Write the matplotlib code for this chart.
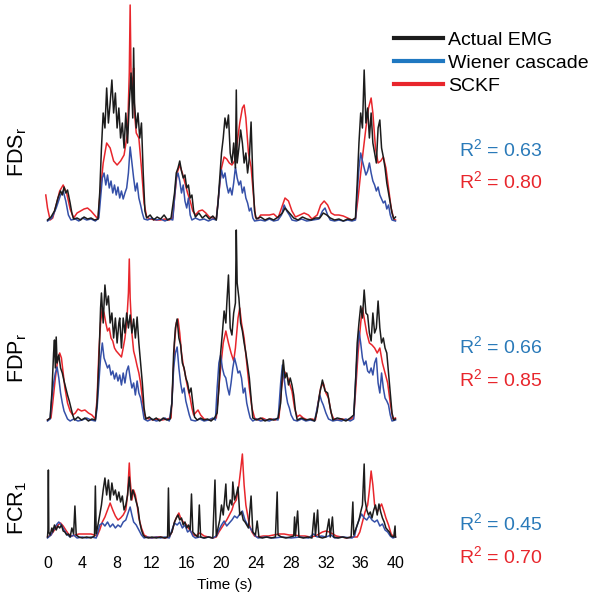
import numpy as np
import matplotlib
matplotlib.use('Agg')
import matplotlib.pyplot as plt
from matplotlib.lines import Line2D

plt.rcParams['font.family'] = ['Liberation Sans', 'DejaVu Sans']
plt.rcParams['mathtext.fontset'] = 'custom'
plt.rcParams['mathtext.rm'] = 'Liberation Sans'
plt.rcParams['mathtext.it'] = 'Liberation Sans:italic'

# ---------- data: (time s, amplitude a.u.) ----------
fds_actual = [
    (0.0, 3), (0.4, 6), (0.8, 12), (1.2, 25), (1.5, 32), (1.7, 28), (1.9, 36), (2.1, 30), (2.3, 33), (2.6, 20),
    (2.8, 10), (3.0, 4), (3.4, 5), (3.8, 3), (4.2, 6), (4.6, 4), (5.0, 5), (5.4, 3), (5.8, 4),
    (6.0, 30), (6.2, 75), (6.4, 110), (6.6, 95), (6.8, 135), (7.0, 100), (7.2, 120), (7.4, 143), (7.6, 110),
    (7.8, 130), (8.0, 95), (8.2, 115), (8.4, 85), (8.6, 100), (8.8, 75), (9.0, 110), (9.2, 80), (9.4, 120),
    (9.6, 150), (9.8, 105), (9.9, 175), (10.0, 120), (10.2, 95), (10.4, 110), (10.6, 85), (10.8, 100), (11.0, 50),
    (11.2, 12), (11.4, 5), (11.8, 8), (12.2, 3), (12.6, 6), (13.0, 4), (13.4, 8), (13.8, 3), (14.2, 5),
    (14.6, 30), (14.8, 50), (15.0, 55), (15.2, 62), (15.4, 52), (15.6, 45), (15.8, 48), (16.0, 35), (16.2, 38),
    (16.4, 25), (16.6, 28), (16.8, 12), (17.0, 6), (17.4, 10), (17.8, 5), (18.2, 8), (18.6, 4), (19.0, 7), (19.4, 3),
    (19.6, 20), (19.8, 45), (20.0, 70), (20.2, 85), (20.4, 105), (20.6, 95), (20.8, 108), (21.0, 70), (21.2, 60),
    (21.4, 80), (21.6, 55), (21.7, 133), (21.8, 60), (22.0, 75), (22.2, 93), (22.4, 80), (22.6, 60), (22.8, 70),
    (23.0, 50), (23.2, 65), (23.4, 101), (23.6, 45), (23.8, 12), (24.0, 4), (24.5, 6), (25.0, 3), (25.5, 5),
    (26.0, 3), (26.5, 6), (27.0, 10), (27.3, 15), (27.6, 12), (28.0, 8), (28.3, 5), (28.8, 3), (29.3, 6), (29.8, 4),
    (30.3, 3), (30.8, 5), (31.3, 5), (31.7, 10), (32.1, 8), (32.5, 5), (33.0, 3), (33.5, 4), (34.0, 2), (34.5, 4),
    (35.0, 3), (35.4, 5), (35.6, 40), (35.8, 80), (36.0, 110), (36.2, 95), (36.4, 153), (36.6, 100), (36.8, 115),
    (37.0, 85), (37.2, 110), (37.4, 80), (37.6, 70), (37.8, 60), (38.0, 95), (38.2, 103), (38.4, 75), (38.6, 66),
    (38.8, 55), (39.0, 40), (39.2, 30), (39.4, 20), (39.6, 10), (39.8, 4), (40.0, 6),
]
fds_wiener = [
    (0.0, 2), (0.5, 5), (1.0, 15), (1.5, 28), (1.8, 32), (2.1, 22), (2.4, 8), (2.7, 3), (3.2, 4), (3.6, 2),
    (4.0, 5), (4.5, 3), (5.0, 4), (5.5, 2), (5.9, 5),
    (6.1, 25), (6.3, 45), (6.5, 50), (6.7, 38), (6.9, 48), (7.1, 35), (7.3, 42), (7.5, 30), (7.7, 38), (7.9, 28),
    (8.1, 36), (8.3, 25), (8.5, 32), (8.7, 24), (8.9, 30), (9.1, 35), (9.3, 50), (9.5, 76), (9.7, 60), (9.9, 45),
    (10.1, 32), (10.3, 40), (10.5, 25), (10.7, 18), (10.9, 10), (11.1, 4), (11.5, 3), (12.0, 5), (12.5, 3),
    (13.0, 4), (13.5, 2), (14.0, 4), (14.4, 3),
    (14.6, 25), (14.8, 45), (15.0, 50), (15.2, 42), (15.4, 30), (15.6, 38), (15.8, 22), (16.0, 15), (16.2, 25),
    (16.4, 8), (16.6, 3), (17.0, 5), (17.5, 3), (18.0, 4), (18.5, 2), (19.0, 4), (19.4, 3),
    (19.6, 20), (19.8, 40), (20.0, 53), (20.2, 45), (20.4, 50), (20.6, 38), (20.8, 30), (21.0, 35), (21.2, 28),
    (21.4, 40), (21.6, 56), (21.8, 45), (22.0, 38), (22.2, 42), (22.4, 30), (22.6, 36), (22.8, 25), (23.0, 20),
    (23.2, 12), (23.4, 15), (23.6, 5), (23.8, 2), (24.5, 3), (25.0, 2), (25.5, 4), (26.0, 2), (26.5, 3),
    (26.9, 8), (27.2, 18), (27.5, 12), (27.8, 8), (28.1, 3), (28.6, 2), (29.2, 4), (29.8, 2), (30.5, 3),
    (31.2, 4), (31.6, 12), (31.9, 15), (32.2, 8), (32.5, 3), (33.0, 2), (33.5, 3), (34.0, 2), (34.5, 3),
    (35.0, 2), (35.4, 3),
    (35.6, 30), (35.8, 55), (36.0, 70), (36.2, 62), (36.4, 55), (36.6, 48), (36.8, 52), (37.0, 60), (37.2, 50),
    (37.4, 42), (37.6, 38), (37.8, 32), (38.0, 36), (38.2, 28), (38.4, 24), (38.6, 20), (38.8, 22), (39.0, 14),
    (39.2, 18), (39.4, 8), (39.6, 3), (40.0, 2),
]
fds_sckf = [
    (-0.2, 28), (0.0, 15), (0.3, 3), (0.6, 5), (1.0, 18), (1.4, 32), (1.8, 38), (2.2, 30), (2.6, 14), (3.0, 5),
    (3.4, 10), (3.8, 12), (4.2, 14), (4.6, 15), (5.0, 12), (5.4, 8), (5.8, 4),
    (6.0, 25), (6.4, 60), (6.8, 80), (7.2, 75), (7.6, 62), (8.0, 58), (8.4, 62), (8.8, 68), (9.2, 90),
    (9.4, 150), (9.5, 218), (9.6, 150), (9.8, 135), (9.9, 155), (10.0, 110), (10.2, 90), (10.5, 85), (10.8, 55),
    (11.1, 20), (11.4, 6), (11.8, 4), (12.5, 3), (13.0, 3), (13.5, 4), (14.0, 3), (14.4, 5),
    (14.6, 25), (14.9, 50), (15.2, 58), (15.5, 50), (15.8, 40), (16.1, 30), (16.4, 22), (16.7, 12), (17.0, 8),
    (17.4, 12), (17.8, 13), (18.2, 10), (18.6, 6), (19.0, 5), (19.4, 4),
    (19.7, 30), (20.0, 55), (20.3, 66), (20.6, 64), (20.9, 60), (21.2, 58), (21.5, 62), (21.8, 80), (22.1, 100),
    (22.4, 115), (22.6, 118), (22.8, 105), (23.1, 70), (23.4, 56), (23.7, 25), (23.9, 6), (24.2, 4), (24.5, 8),
    (25.0, 8), (25.5, 8), (26.0, 9), (26.5, 5), (26.9, 15), (27.3, 25), (27.7, 22), (28.1, 12), (28.5, 6),
    (29.0, 8), (29.5, 10), (30.0, 8), (30.4, 4), (31.0, 8), (31.4, 18), (31.8, 22), (32.2, 18), (32.6, 10),
    (33.0, 8), (33.5, 8), (34.0, 7), (34.5, 5), (35.0, 3), (35.4, 4),
    (35.7, 25), (36.0, 50), (36.3, 73), (36.6, 95), (36.9, 115), (37.2, 125), (37.4, 110), (37.7, 75), (38.0, 60),
    (38.3, 62), (38.6, 66), (38.9, 55), (39.2, 35), (39.5, 15), (39.8, 4), (40.0, 3),
]

fdp_actual = [
    (0.0, 3), (0.3, 5), (0.5, 30), (0.7, 70), (0.8, 83), (0.9, 55), (1.0, 86), (1.1, 60), (1.3, 68), (1.5, 55),
    (1.7, 50), (1.9, 42), (2.1, 35), (2.3, 28), (2.5, 22), (2.7, 15), (2.9, 8), (3.1, 3), (3.5, 6), (3.9, 3),
    (4.3, 5), (4.7, 2), (5.1, 4), (5.5, 3),
    (5.7, 20), (5.9, 60), (6.1, 115), (6.2, 130), (6.4, 100), (6.6, 138), (6.8, 118), (7.0, 127), (7.2, 100),
    (7.4, 110), (7.6, 85), (7.8, 105), (8.0, 80), (8.2, 100), (8.3, 105), (8.5, 75), (8.7, 105), (8.9, 90),
    (9.1, 110), (9.3, 95), (9.5, 108), (9.7, 90), (9.9, 104), (10.1, 85), (10.3, 106), (10.5, 80), (10.7, 60),
    (10.9, 40), (11.1, 15), (11.3, 4), (11.7, 6), (12.1, 3), (12.5, 5), (12.9, 2), (13.3, 5), (13.7, 3),
    (14.1, 4), (14.3, 20),
    (14.5, 70), (14.7, 95), (14.9, 104), (15.1, 85), (15.3, 78), (15.5, 60), (15.7, 55), (15.9, 45), (16.1, 40),
    (16.3, 30), (16.5, 35), (16.7, 20), (16.9, 6), (17.2, 3), (17.6, 5), (18.0, 3), (18.4, 4), (18.8, 2),
    (19.2, 5), (19.5, 10),
    (19.7, 35), (19.9, 70), (20.1, 90), (20.3, 112), (20.5, 100), (20.6, 118), (20.8, 148), (21.0, 95),
    (21.2, 88), (21.4, 110), (21.6, 120), (21.7, 193), (21.8, 140), (22.0, 125), (22.2, 100), (22.4, 92),
    (22.6, 80), (22.8, 70), (23.0, 58), (23.2, 45), (23.4, 25), (23.6, 5), (24.0, 3), (24.5, 5), (25.0, 2),
    (25.5, 4), (26.0, 3), (26.5, 5), (26.8, 20),
    (27.0, 50), (27.1, 63), (27.3, 45), (27.5, 50), (27.7, 38), (27.9, 45), (28.1, 38), (28.3, 28), (28.5, 12),
    (28.7, 3), (29.2, 5), (29.7, 3), (30.2, 4), (30.7, 2), (31.0, 12), (31.3, 30), (31.6, 43), (31.9, 32),
    (32.2, 30), (32.5, 15), (32.8, 3), (33.3, 5), (33.8, 4), (34.3, 2), (34.8, 5), (35.2, 8),
    (35.4, 40), (35.6, 80), (35.8, 100), (36.0, 117), (36.2, 105), (36.4, 133), (36.6, 110), (36.8, 108),
    (37.0, 90), (37.2, 82), (37.4, 110), (37.6, 90), (37.8, 95), (38.0, 122), (38.2, 95), (38.4, 80), (38.6, 85),
    (38.8, 75), (39.0, 70), (39.2, 50), (39.4, 30), (39.6, 10), (39.8, 3), (40.0, 4),
]
fdp_wiener = [
    (0.0, 2), (0.3, 4), (0.5, 25), (0.7, 40), (0.9, 50), (1.1, 56), (1.3, 45), (1.5, 30), (1.7, 20), (1.9, 12),
    (2.1, 8), (2.3, 4), (2.6, 2), (3.0, 4), (3.5, 2), (4.0, 3), (4.5, 5), (5.0, 3), (5.5, 2),
    (5.7, 15), (5.9, 40), (6.1, 65), (6.3, 80), (6.5, 65), (6.7, 60), (6.9, 55), (7.1, 58), (7.3, 48), (7.5, 52),
    (7.7, 44), (7.9, 50), (8.1, 42), (8.3, 48), (8.5, 38), (8.7, 50), (8.9, 40), (9.1, 52), (9.3, 57), (9.5, 45),
    (9.7, 35), (9.9, 40), (10.1, 28), (10.3, 42), (10.5, 30), (10.7, 25), (10.9, 15), (11.1, 4), (11.5, 2),
    (12.0, 4), (12.5, 2), (13.0, 3), (13.5, 5), (14.0, 2),
    (14.3, 20), (14.5, 55), (14.7, 70), (14.9, 76), (15.1, 55), (15.3, 40), (15.5, 30), (15.7, 35), (15.9, 22),
    (16.1, 15), (16.3, 8), (16.5, 3), (17.0, 2), (17.5, 4), (18.0, 2), (18.5, 3), (19.0, 5), (19.3, 3),
    (19.5, 35), (19.7, 60), (19.9, 68), (20.1, 55), (20.3, 48), (20.5, 45), (20.7, 35), (20.9, 28), (21.1, 40),
    (21.3, 55), (21.5, 65), (21.7, 58), (21.9, 50), (22.1, 52), (22.3, 45), (22.5, 30), (22.7, 35), (22.9, 20),
    (23.1, 12), (23.3, 5), (23.6, 2), (24.0, 4), (24.5, 2), (25.0, 3), (25.5, 2), (26.0, 4), (26.5, 3),
    (26.8, 40), (27.0, 58), (27.2, 45), (27.4, 30), (27.6, 20), (27.8, 15), (28.0, 8), (28.3, 3), (28.7, 2),
    (29.2, 4), (29.7, 2), (30.2, 3), (30.7, 2), (31.0, 15), (31.3, 28), (31.5, 22), (31.7, 18), (32.0, 10),
    (32.3, 4), (32.8, 2), (33.3, 3), (33.8, 2), (34.3, 4), (34.8, 2), (35.2, 4),
    (35.4, 40), (35.6, 70), (35.8, 92), (36.0, 80), (36.2, 65), (36.4, 58), (36.6, 62), (36.8, 52), (37.0, 50),
    (37.2, 55), (37.4, 48), (37.6, 60), (37.8, 65), (38.0, 40), (38.2, 30), (38.4, 50), (38.6, 35), (38.8, 25),
    (39.0, 22), (39.2, 18), (39.4, 8), (39.6, 2), (40.0, 3),
]
fdp_sckf = [
    (0.0, 3), (0.4, 5), (0.6, 20), (0.9, 45), (1.2, 65), (1.4, 70), (1.6, 65), (1.8, 50), (2.0, 35), (2.3, 20),
    (2.6, 12), (2.9, 8), (3.2, 10), (3.5, 14), (3.9, 12), (4.3, 13), (4.7, 10), (5.1, 8), (5.5, 4),
    (5.7, 25), (5.9, 70), (6.1, 100), (6.3, 115), (6.5, 110), (6.7, 100), (6.9, 92), (7.1, 95), (7.3, 85),
    (7.5, 82), (7.7, 75), (7.9, 72), (8.1, 70), (8.3, 68), (8.5, 66), (8.7, 75), (8.9, 85), (9.1, 100),
    (9.3, 130), (9.4, 164), (9.5, 125), (9.7, 90), (9.9, 72), (10.1, 65), (10.3, 57), (10.5, 50), (10.7, 40),
    (10.9, 25), (11.1, 10), (11.3, 5), (11.7, 4), (12.2, 3), (12.7, 4), (13.2, 3), (13.7, 4), (14.2, 5),
    (14.4, 40), (14.6, 80), (14.8, 100), (15.0, 104), (15.2, 90), (15.4, 70), (15.6, 58), (15.8, 50), (16.0, 40),
    (16.2, 32), (16.4, 25), (16.6, 15), (16.8, 8), (17.0, 10), (17.3, 13), (17.6, 8), (18.0, 4), (18.5, 3),
    (19.0, 4), (19.4, 5),
    (19.6, 25), (19.9, 55), (20.2, 80), (20.5, 92), (20.8, 80), (21.1, 70), (21.4, 62), (21.6, 75), (21.9, 105),
    (22.1, 115), (22.3, 100), (22.6, 85), (22.9, 60), (23.2, 35), (23.5, 15), (23.8, 5), (24.2, 3), (24.7, 5),
    (25.2, 3), (25.7, 4), (26.2, 3), (26.6, 5),
    (26.9, 35), (27.2, 52), (27.5, 48), (27.8, 40), (28.1, 32), (28.4, 15), (28.7, 6), (29.0, 8), (29.4, 5),
    (29.9, 3), (30.4, 4), (30.8, 3), (31.1, 20), (31.4, 35), (31.7, 40), (32.0, 30), (32.3, 25), (32.6, 10),
    (32.9, 4), (33.4, 3), (33.9, 4), (34.4, 3), (34.9, 4), (35.2, 6),
    (35.4, 30), (35.7, 70), (36.0, 100), (36.2, 115), (36.4, 105), (36.7, 90), (37.0, 80), (37.3, 78), (37.6, 75),
    (37.9, 70), (38.2, 75), (38.5, 60), (38.8, 50), (39.1, 40), (39.4, 20), (39.7, 4), (40.0, 5),
]

fcr_actual = [
    (0.0, 3), (0.05, 10), (0.1, 70), (0.15, 8), (0.3, 5), (0.5, 12), (0.6, 8), (0.8, 15), (1.0, 10), (1.2, 14),
    (1.4, 12), (1.6, 15), (1.8, 9), (2.0, 8), (2.2, 5), (2.4, 6), (2.6, 3), (2.8, 12), (3.0, 6), (3.15, 34),
    (3.3, 5), (3.6, 3), (4.0, 2), (4.5, 3), (5.0, 2), (5.4, 4), (5.5, 54), (5.6, 6),
    (5.8, 15), (6.0, 25), (6.2, 35), (6.4, 50), (6.6, 62), (6.8, 45), (7.0, 60), (7.2, 40), (7.4, 57), (7.6, 45),
    (7.8, 50), (8.0, 40), (8.2, 48), (8.4, 38), (8.6, 44), (8.8, 30), (9.0, 35), (9.2, 45), (9.4, 63), (9.6, 40),
    (9.8, 50), (10.0, 45), (10.2, 38), (10.4, 32), (10.6, 18), (10.8, 10), (11.0, 5), (11.2, 3), (11.6, 2),
    (12.0, 3), (12.5, 2), (13.0, 3), (13.5, 2), (13.8, 3), (13.9, 52), (14.0, 4),
    (14.3, 8), (14.6, 18), (14.8, 22), (15.0, 25), (15.2, 20), (15.4, 22), (15.6, 15), (15.8, 18), (16.0, 12),
    (16.2, 15), (16.4, 10), (16.55, 46), (16.7, 8), (17.0, 5), (17.3, 3), (17.45, 35), (17.6, 3), (18.0, 2),
    (18.5, 3), (19.0, 2), (19.25, 60), (19.4, 4),
    (19.6, 12), (19.8, 20), (20.0, 35), (20.2, 25), (20.4, 45), (20.5, 56), (20.6, 35), (20.8, 30), (21.0, 40),
    (21.2, 35), (21.3, 58), (21.5, 40), (21.7, 45), (21.9, 53), (22.1, 25), (22.3, 28), (22.5, 20), (22.7, 18),
    (22.9, 15), (23.1, 12), (23.4, 44), (23.6, 8), (23.9, 5), (24.1, 19), (24.3, 3), (24.7, 2), (25.2, 3),
    (25.7, 2), (26.2, 3), (26.4, 48), (26.5, 5), (26.9, 3), (27.4, 2), (27.9, 3), (28.3, 4), (28.4, 23),
    (28.5, 4), (28.75, 29), (28.9, 3), (29.4, 2), (29.9, 3), (30.4, 2), (30.65, 27), (30.8, 4), (31.05, 30),
    (31.2, 3), (31.6, 2), (32.0, 3), (32.35, 21), (32.5, 3), (32.75, 23), (32.9, 3), (33.4, 2), (33.9, 3),
    (34.4, 2), (34.9, 3), (35.1, 38), (35.2, 5),
    (35.4, 10), (35.6, 15), (35.8, 20), (36.0, 28), (36.2, 35), (36.4, 76), (36.5, 40), (36.7, 30), (36.9, 25),
    (37.1, 28), (37.3, 22), (37.5, 30), (37.7, 35), (37.9, 25), (38.1, 36), (38.3, 28), (38.5, 22), (38.7, 18),
    (38.9, 12), (39.1, 10), (39.3, 8), (39.5, 4), (39.8, 3), (39.95, 14), (40.0, 3),
]
fcr_wiener = [
    (0.0, 2), (0.4, 5), (0.8, 12), (1.1, 16), (1.3, 18), (1.6, 15), (1.9, 10), (2.2, 6), (2.6, 3), (3.0, 5),
    (3.4, 2), (4.0, 3), (4.5, 2), (5.0, 3), (5.6, 2),
    (5.8, 8), (6.0, 15), (6.3, 17), (6.6, 14), (6.9, 18), (7.2, 13), (7.5, 16), (7.8, 12), (8.1, 15), (8.4, 13),
    (8.7, 18), (9.0, 20), (9.3, 28), (9.5, 33), (9.7, 25), (9.9, 18), (10.2, 15), (10.5, 10), (10.8, 5),
    (11.1, 2), (11.5, 3), (12.0, 2), (12.5, 3), (13.0, 2), (13.5, 3), (14.0, 2),
    (14.3, 10), (14.6, 17), (14.9, 15), (15.2, 18), (15.5, 12), (15.8, 15), (16.1, 8), (16.4, 10), (16.7, 4),
    (17.0, 2), (17.5, 3), (18.0, 2), (18.5, 3), (19.0, 2), (19.4, 4),
    (19.7, 10), (20.0, 15), (20.3, 19), (20.6, 14), (20.9, 17), (21.2, 20), (21.5, 24), (21.8, 22), (22.1, 26),
    (22.4, 29), (22.7, 20), (23.0, 15), (23.3, 12), (23.6, 8), (23.9, 4), (24.2, 2), (25.0, 3), (26.0, 2),
    (27.0, 3), (28.0, 2), (29.0, 3), (30.0, 2), (30.6, 6), (31.0, 3), (31.5, 4), (32.0, 3), (32.6, 5), (33.0, 2),
    (34.0, 3), (35.0, 2), (35.3, 4),
    (35.5, 12), (35.8, 20), (36.1, 26), (36.4, 22), (36.7, 20), (37.0, 24), (37.3, 20), (37.6, 18), (37.9, 20),
    (38.2, 14), (38.5, 16), (38.8, 10), (39.1, 8), (39.4, 4), (39.7, 2), (40.0, 3),
]
fcr_sckf = [
    (0.0, 3), (0.4, 5), (0.8, 10), (1.2, 15), (1.5, 17), (1.8, 14), (2.1, 10), (2.4, 6), (2.8, 4), (3.2, 5),
    (3.6, 6), (4.0, 6), (4.5, 6), (5.0, 6), (5.4, 5), (5.7, 4),
    (6.0, 10), (6.3, 18), (6.6, 23), (6.9, 30), (7.2, 37), (7.5, 30), (7.8, 24), (8.1, 20), (8.4, 22), (8.7, 25),
    (9.0, 30), (9.2, 45), (9.4, 77), (9.5, 60), (9.7, 40), (9.9, 50), (10.1, 45), (10.3, 35), (10.5, 22),
    (10.8, 12), (11.1, 5), (11.5, 3), (12.0, 2), (12.5, 3), (13.0, 3), (13.5, 2), (14.0, 3),
    (14.3, 8), (14.6, 18), (14.9, 24), (15.1, 27), (15.3, 22), (15.6, 18), (15.9, 16), (16.2, 12), (16.5, 8),
    (16.8, 5), (17.1, 4), (17.4, 7), (17.7, 6), (18.0, 4), (18.5, 3), (19.0, 2), (19.4, 3),
    (19.7, 8), (20.0, 12), (20.3, 16), (20.6, 20), (20.9, 25), (21.2, 30), (21.4, 36), (21.7, 40), (22.0, 55),
    (22.2, 70), (22.4, 86), (22.5, 70), (22.6, 55), (22.8, 35), (23.0, 25), (23.2, 15), (23.5, 8), (23.8, 4),
    (24.2, 3), (24.8, 4), (25.4, 4), (26.0, 5), (26.6, 6), (27.2, 6), (27.8, 5), (28.4, 5), (29.0, 4), (29.6, 4),
    (30.2, 3), (30.8, 4), (31.2, 6), (31.6, 8), (32.0, 9), (32.4, 8), (32.8, 6), (33.2, 4), (33.8, 3), (34.4, 2),
    (35.0, 3), (35.6, 3),
    (35.9, 8), (36.2, 18), (36.5, 28), (36.8, 35), (37.0, 50), (37.2, 69), (37.4, 55), (37.6, 35), (37.9, 28),
    (38.2, 33), (38.4, 36), (38.7, 28), (38.9, 22), (39.2, 15), (39.5, 6), (39.8, 3), (40.0, 3),
]

muscles = ['FDS$_\\mathrm{r}$', 'FDP$_\\mathrm{r}$', 'FCR$_\\mathrm{1}$']
r2_wiener = [0.63, 0.66, 0.45]
r2_sckf = [0.80, 0.85, 0.70]
x_ticks = list(range(0, 41, 4))

# ---------- style ----------
C_ACTUAL = '#1c1c1c'
C_WIENER = '#3550a8'
C_SCKF = '#e8262c'
C_WIENER_TXT = '#2a7ab9'
C_WIENER_LEG = '#1f78c1'

W, H = 595, 599
fig = plt.figure(figsize=(W / 100, H / 100), dpi=100)


def px_axes(top, bottom):
    left, right = 44.9, 398.1
    return fig.add_axes([left / W, 1 - bottom / H, (right - left) / W, (bottom - top) / H])


# (axes top px, axes bottom px, ymax)
panels = [
    (1, 226, 222, fds_actual, fds_wiener, fds_sckf),
    (226, 426, 197, fdp_actual, fdp_wiener, fdp_sckf),
    (450, 543, 90, fcr_actual, fcr_wiener, fcr_sckf),
]
label_y = [152, 358, 508]
r2_y = [(149, 181), (346, 379), (523, 556)]

for i, (top, bot, ymax, act, wie, sck) in enumerate(panels):
    ax = px_axes(top, bot)
    ax.patch.set_alpha(0)
    for data, col in [(sck, C_SCKF), (wie, C_WIENER), (act, C_ACTUAL)]:
        arr = np.array(data)
        ax.plot(arr[:, 0], arr[:, 1], color=col, lw=1.1)
    ax.set_xlim(-0.3, 40.3)
    ax.set_ylim(-3, ymax)
    for s in ax.spines.values():
        s.set_visible(False)
    ax.set_yticks([])
    if i == 2:
        ax.set_xticks(x_ticks)
        ax.tick_params(axis='x', length=0, pad=9, labelsize=11.5)
    else:
        ax.set_xticks([])

    fig.text(18 / W, 1 - label_y[i] / H, muscles[i], rotation=90, fontsize=15.5,
             ha='center', va='center')
    yb, yr = r2_y[i]
    fig.text(459 / W, 1 - yb / H, f'R$^2$ = {r2_wiener[i]:.2f}', color=C_WIENER_TXT,
             fontsize=14, ha='left', va='center')
    fig.text(459 / W, 1 - yr / H, f'R$^2$ = {r2_sckf[i]:.2f}', color=C_SCKF,
             fontsize=14, ha='left', va='center')

fig.text(225 / W, 1 - 585 / H, 'Time (s)', fontsize=11, ha='center', va='center')

handles = [Line2D([], [], color=C_ACTUAL, lw=3),
           Line2D([], [], color=C_WIENER_LEG, lw=3),
           Line2D([], [], color=C_SCKF, lw=3)]
fig.legend(handles, ['Actual EMG', 'Wiener cascade', 'SCKF'], loc='upper left',
           bbox_to_anchor=(394 / W, 1 - 31 / H), frameon=False, fontsize=14,
           handlelength=2.5, handletextpad=0.3, labelspacing=0.28, borderpad=0,
           borderaxespad=0)

fig.savefig('out.png', dpi=100)
